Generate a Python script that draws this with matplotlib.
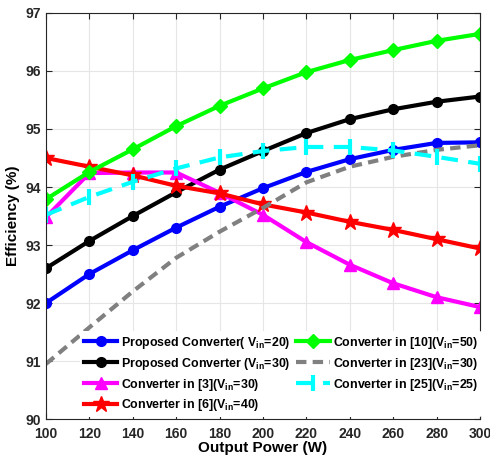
import matplotlib.pyplot as plt

plt.rcParams['font.family'] = ['Liberation Sans', 'DejaVu Sans']
plt.rcParams['font.weight'] = 'bold'
plt.rcParams['mathtext.fontset'] = 'custom'
plt.rcParams['mathtext.rm'] = 'Liberation Sans:bold'
plt.rcParams['mathtext.bf'] = 'Liberation Sans:bold'
plt.rcParams['mathtext.it'] = 'Liberation Sans:bold'

power = [100, 120, 140, 160, 180, 200, 220, 240, 260, 280, 300]

prop_20 = [92.0, 92.5, 92.91, 93.3, 93.66, 93.98, 94.26, 94.48, 94.64, 94.76, 94.77]
prop_30 = [92.6, 93.07, 93.5, 93.91, 94.3, 94.62, 94.93, 95.17, 95.34, 95.47, 95.56]
conv_3 = [93.48, 94.24, 94.25, 94.25, 93.9, 93.52, 93.05, 92.66, 92.34, 92.1, 91.93]
conv_6 = [94.5, 94.35, 94.2, 94.02, 93.89, 93.7, 93.56, 93.4, 93.26, 93.1, 92.94]
conv_10 = [93.79, 94.26, 94.65, 95.05, 95.4, 95.7, 95.98, 96.19, 96.36, 96.52, 96.64]
conv_23 = [90.95, 91.58, 92.2, 92.78, 93.23, 93.64, 94.08, 94.35, 94.52, 94.64, 94.72]
conv_25 = [93.52, 93.83, 94.09, 94.32, 94.51, 94.62, 94.69, 94.69, 94.63, 94.52, 94.4]

fig = plt.figure(figsize=(4.9, 4.59), dpi=100)
ax = fig.add_axes([0.0939, 0.0871, 0.8857, 0.8846])

lw = 3
l1, = ax.plot(power, prop_20, color='blue', marker='o', ms=7,
              lw=lw, label=r'Proposed Converter( V$_{\mathrm{in}}$=20)')
l2, = ax.plot(power, prop_30, color='black', marker='o', ms=7,
              lw=lw, label=r'Proposed Converter (V$_{\mathrm{in}}$=30)')
l3, = ax.plot(power, conv_3, color='magenta', marker='^', ms=9,
              lw=lw, label=r'Converter in [3](V$_{\mathrm{in}}$=30)')
l4, = ax.plot(power, conv_6, color='red', marker='*', ms=12,
              lw=lw, label=r'Converter in [6](V$_{\mathrm{in}}$=40)')
l5, = ax.plot(power, conv_10, color='#00ff00', marker='D', ms=7,
              lw=lw, label=r'Converter in [10](V$_{\mathrm{in}}$=50)')
l6, = ax.plot(power, conv_23, color='gray', ls=(0, (2.5, 1.5)),
              lw=lw, label=r'Converter in [23](V$_{\mathrm{in}}$=30)')
l7, = ax.plot(power, conv_25, color='cyan', ls=(0, (4, 2.5)), marker='|', ms=12, mew=3,
              lw=lw, label=r'Converter in [25](V$_{\mathrm{in}}$=25)')

ax.set_xlim(100, 300)
ax.set_ylim(90, 97)
ax.set_xticks(power)
ax.set_yticks(range(90, 98))
ax.grid(True, color='#e6e6e6', lw=0.8)
ax.tick_params(direction='in', top=True, right=True, labelsize=10, colors='#262626', length=4)
ax.tick_params(axis='x', pad=6)
for s in ax.spines.values():
    s.set_color('#262626')
ax.set_xlabel('Output Power (W)', fontsize=11, fontweight='bold', labelpad=0)
ax.set_ylabel('Efficiency (%)', fontsize=11, fontweight='bold')

leg = ax.legend(handles=[l1, l2, l3, l4, l5, l6, l7], ncol=2, loc='lower left',
                bbox_to_anchor=(0.075, 0.0), fontsize=8.9, frameon=True,
                handlelength=2.7, handletextpad=0.25, columnspacing=0.5,
                labelspacing=0.4, borderaxespad=0.15, borderpad=0.3)
leg.get_frame().set_edgecolor('none')
leg.get_frame().set_facecolor('white')
leg.get_frame().set_alpha(1)

fig.savefig('out.png', dpi=100)
